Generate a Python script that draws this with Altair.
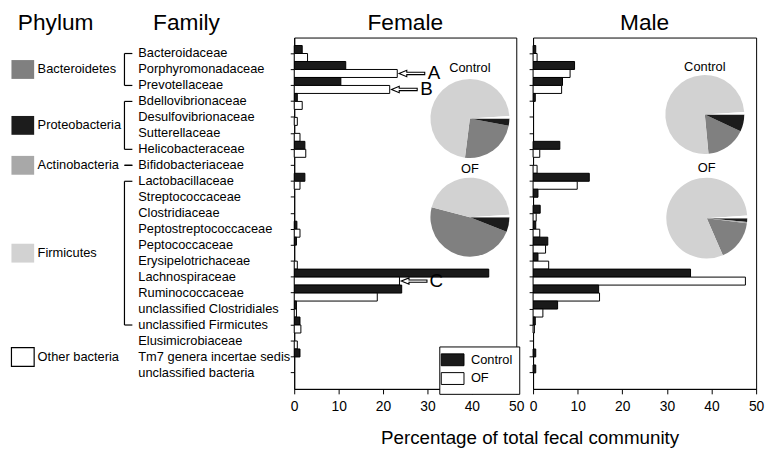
import math
import altair as alt
import pandas as pd

# ---------------- data ----------------
families = [
    "Bacteroidaceae", "Porphyromonadaceae", "Prevotellaceae",
    "Bdellovibrionaceae", "Desulfovibrionaceae", "Sutterellaceae", "Helicobacteraceae",
    "Bifidobacteriaceae",
    "Lactobacillaceae", "Streptococcaceae", "Clostridiaceae", "Peptostreptococcaceae",
    "Peptococcaceae", "Erysipelotrichaceae", "Lachnospiraceae", "Ruminococcaceae",
    "unclassified Clostridiales", "unclassified Firmicutes",
    "Elusimicrobiaceae", "Tm7 genera incertae sedis", "unclassified bacteria",
]
family_phylum = (["Bacteroidetes"] * 3 + ["Proteobacteria"] * 4 + ["Actinobacteria"]
                 + ["Firmicutes"] * 10 + ["Other bacteria"] * 3)

female_control = [1.8, 11.6, 10.5, 0.7, 0, 0, 2.4, 0, 2.4, 0, 0, 0.6, 0.5, 0, 43.8, 24.2, 0.5, 1.3, 0, 1.3, 0]
female_of = [3.0, 23.2, 21.5, 1.8, 0.7, 1.3, 2.6, 0, 1.3, 0, 0, 1.3, 0, 0.7, 23.7, 18.7, 0.5, 1.5, 0.7, 0, 0]
male_control = [0.6, 9.3, 6.6, 0.5, 0, 0, 6.0, 0, 12.6, 1.1, 1.6, 0.6, 3.3, 1.1, 35.3, 14.7, 5.5, 0.5, 0, 0.6, 0.6]
male_of = [0.9, 8.3, 6.4, 0, 0, 0, 1.5, 0.9, 9.9, 0, 0.7, 1.5, 2.8, 3.5, 47.6, 14.9, 2.2, 0.3, 0, 0, 0]

series = ["Control", "OF"]
series_colors = ["#1a1a1a", "#ffffff"]

phyla = ["Bacteroidetes", "Proteobacteria", "Actinobacteria", "Firmicutes", "Other bacteria"]
phylum_colors = ["#808080", "#1c1c1c", "#a8a8a8", "#d2d2d2", "#ffffff"]
bracketed = ["Bacteroidetes", "Proteobacteria", "Actinobacteria", "Firmicutes"]
pie_order = ["Proteobacteria", "Actinobacteria", "Bacteroidetes", "Firmicutes", "Other bacteria"]

# pie percentages, in phyla order
pie_female_control = [24, 3, 0, 72, 1]
pie_female_of = [48, 6, 0, 45, 1]
pie_male_control = [16.5, 7, 0, 75.5, 1]
pie_male_of = [16.5, 1.5, 0.5, 80.5, 1]

annot_families = ["Porphyromonadaceae", "Prevotellaceae", "Lachnospiraceae"]
annot_labels = ["A", "B", "C"]
x_ticks = [0, 10, 20, 30, 40, 50]
x_title = "Percentage of total fecal community"

# ---------------- layout / style ----------------
FONT = "Liberation Sans, Arial, Helvetica, sans-serif"
W_F, W_M, H = 225, 226, 356
GAP = 17
LEFT_W = 270
HEAD_FS = 23
HEAD_Y = -8
ARROW = "M-1,0L-0.4,-0.25L-0.4,-0.09L1,-0.09L1,0.09L-0.4,0.09L-0.4,0.25Z"
RECT = "M-1,-0.83H1V0.83H-1Z"
LEG_SYM = "M-1.92,-1H1.92V1H-1.92Z"

records = []
for sex, ctrl, of in [("Female", female_control, female_of), ("Male", male_control, male_of)]:
    for f, c, o in zip(families, ctrl, of):
        records.append({"sex": sex, "family": f, "series": "Control", "value": c})
        records.append({"sex": sex, "family": f, "series": "OF", "value": o})
bars_df = pd.DataFrame(records)
bars_df = bars_df[bars_df.value > 0]

y_scale = alt.Scale(domain=families, paddingInner=0, paddingOuter=0.5)
yoff_scale = alt.Scale(domain=series, paddingInner=0, paddingOuter=0)
x_scale = alt.Scale(domain=[0, 50], nice=False)
fill_scale = alt.Scale(domain=series, range=series_colors)
color_scale = alt.Scale(domain=phyla, range=phylum_colors)
theta_scale = alt.Scale(domain=[0, 100], range=[math.pi / 2, math.pi / 2 + 2 * math.pi])


def x_axis():
    return alt.Axis(values=x_ticks, title=None, grid=False, tickSize=5, labelPadding=6,
                    labelFontSize=14, labelFlush=False, labelOverlap=False, labelColor="black",
                    tickColor="black", domainColor="black", format="d")


def y_axis():
    return alt.Axis(labels=False, title=None, grid=False, tickSize=4,
                    tickColor="black", domainColor="black")


def text_layer(t, x, y, size, align="center", baseline="alphabetic"):
    return alt.Chart(pd.DataFrame({"t": [t]})).mark_text(
        fontSize=size, color="black", align=align, baseline=baseline
    ).encode(text="t:N", x=alt.value(x), y=alt.value(y))


def pie_layers(values, cx, cy, r, label, label_y):
    df = pd.DataFrame({"phylum": phyla, "pct": values,
                       "ord": [pie_order.index(p) for p in phyla]})
    arc = alt.Chart(df).mark_arc(radius=r).encode(
        theta=alt.Theta("pct:Q", stack=True, scale=theta_scale),
        color=alt.Color("phylum:N", scale=color_scale, legend=None),
        order=alt.Order("ord:Q"),
        x=alt.value(cx), y=alt.value(cy),
    )
    return [arc, text_layer(label, cx, label_y, 13, baseline="middle")]


def bar_layer(sex, legend):
    return alt.Chart(bars_df[bars_df.sex == sex]).mark_bar(stroke="black", strokeWidth=1).encode(
        x=alt.X("value:Q", scale=x_scale, axis=x_axis()),
        y=alt.Y("family:N", scale=y_scale, axis=y_axis()),
        yOffset=alt.YOffset("series:N", scale=yoff_scale),
        fill=alt.Fill("series:N", scale=fill_scale, legend=legend),
    )


legend = alt.Legend(title=None, orient="none", legendX=147, legendY=H - 43,
                    direction="vertical", symbolType=LEG_SYM, symbolSize=144,
                    symbolStrokeColor="black", symbolStrokeWidth=1, labelFontSize=13,
                    labelFont=FONT, labelColor="black", labelOffset=12, rowPadding=2,
                    padding=7, strokeColor="black", fillColor="white", labelLimit=60)

# annotations (arrows A, B, C on female OF bars)
of_lookup = dict(zip(families, female_of))
ann_df = pd.DataFrame({"family": annot_families, "label": annot_labels,
                       "value": [of_lookup[f] for f in annot_families], "series": "OF"})
arrows = alt.Chart(ann_df).transform_calculate(ax="datum.value + 3.3").mark_point(
    shape=ARROW, size=676, filled=True, fill="white", stroke="black", strokeWidth=1.1, opacity=1
).encode(
    x=alt.X("ax:Q", scale=x_scale, axis=x_axis()),
    y=alt.Y("family:N", scale=y_scale, axis=y_axis()),
    yOffset=alt.YOffset("series:N", scale=yoff_scale),
)
letters = alt.Chart(ann_df).transform_calculate(lx="datum.value + 8.3").mark_text(
    fontSize=19, color="black", align="center", baseline="middle"
).encode(
    x=alt.X("lx:Q", scale=x_scale, axis=x_axis()),
    y=alt.Y("family:N", scale=y_scale, axis=y_axis()),
    yOffset=alt.YOffset("series:N", scale=yoff_scale),
    text="label:N",
)

female = alt.layer(
    bar_layer("Female", legend),
    *pie_layers(pie_female_control, 178, 82, 40, "Control", 31),
    *pie_layers(pie_female_of, 178, 182, 40, "OF", 133),
    arrows, letters,
    text_layer("Female", W_F / 2, HEAD_Y, HEAD_FS),
    text_layer(x_title, (W_F + GAP + W_M) / 2 + 5, H + 56, 19),
).properties(width=W_F, height=H)

male = alt.layer(
    bar_layer("Male", None),
    *pie_layers(pie_male_control, 174, 78, 40, "Control", 30),
    *pie_layers(pie_male_of, 176, 183, 41, "OF", 132),
    text_layer("Male", W_M / 2, HEAD_Y, HEAD_FS),
).properties(width=W_M, height=H)

inner = alt.hconcat(female, male, spacing=GAP, bounds="flush").resolve_scale(fill="independent")

# ---------------- left panel: phylum legend + family labels ----------------
fam_df = pd.DataFrame({"family": families, "phylum": family_phylum,
                       "idx": list(range(len(families)))})
grp = fam_df.groupby("phylum", sort=False)["idx"].agg(["min", "max", "mean"]).reset_index()
grp.columns = ["phylum", "first", "last", "mid"]
br = grp[grp.phylum.isin(bracketed)]
ly = alt.Scale(domain=[-1, len(families)], reverse=True, nice=False, zero=False)

fam_text = alt.Chart(fam_df).mark_text(align="left", baseline="middle", fontSize=13, color="black").encode(
    x=alt.value(129), y=alt.Y("idx:Q", scale=ly, axis=None), text="family:N")
vert = alt.Chart(br).mark_rule(color="black", strokeWidth=1.2).encode(
    x=alt.value(115), y=alt.Y("first:Q", scale=ly, axis=None), y2="last:Q")
top_tick = alt.Chart(br).mark_rule(color="black", strokeWidth=1.2).encode(
    x=alt.value(115), x2=alt.value(123), y=alt.Y("first:Q", scale=ly, axis=None))
bot_tick = alt.Chart(br).mark_rule(color="black", strokeWidth=1.2).encode(
    x=alt.value(115), x2=alt.value(123), y=alt.Y("last:Q", scale=ly, axis=None))
squares = alt.Chart(grp).mark_point(shape=RECT, size=529, filled=True, opacity=1, stroke="black").encode(
    x=alt.value(12), y=alt.Y("mid:Q", scale=ly, axis=None),
    color=alt.Color("phylum:N", scale=color_scale, legend=None),
    strokeWidth=alt.condition(alt.datum.phylum == "Other bacteria", alt.value(1.2), alt.value(0)),
)
ph_text = alt.Chart(grp).mark_text(align="left", baseline="middle", fontSize=13, color="black").encode(
    x=alt.value(27), y=alt.Y("mid:Q", scale=ly, axis=None), text="phylum:N")

left = alt.layer(
    squares, ph_text, vert, top_tick, bot_tick, fam_text,
    text_layer("Phylum", 7, HEAD_Y, HEAD_FS, align="left"),
    text_layer("Family", 144, HEAD_Y, HEAD_FS, align="left"),
).properties(width=LEFT_W, height=H, view=alt.ViewBackground(stroke="transparent"))

chart = alt.hconcat(left, inner, spacing=GAP, bounds="flush").resolve_scale(
    x="independent", y="independent", fill="independent"
).properties(padding=0).configure_view(stroke="black", strokeWidth=1).configure_text(
    font=FONT).configure_axis(labelFont=FONT, titleFont=FONT).configure_legend(labelFont=FONT)

chart.save("out.html", embed_options={"renderer": "svg", "actions": False})
